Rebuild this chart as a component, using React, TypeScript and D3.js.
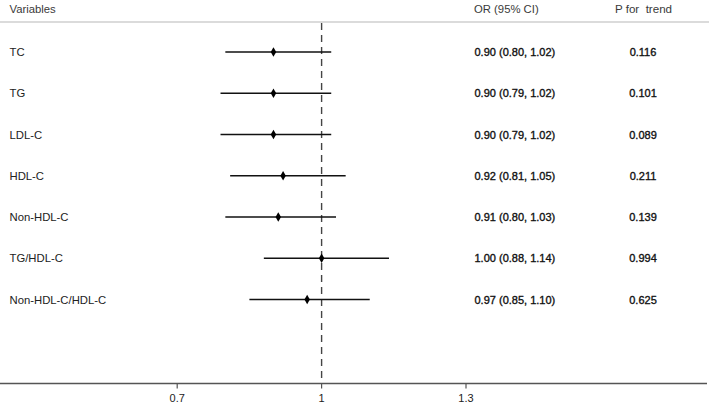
import React from "react";
import * as d3 from "d3";

const variables = ["TC", "TG", "LDL-C", "HDL-C", "Non-HDL-C", "TG/HDL-C", "Non-HDL-C/HDL-C"];
const orValues = [0.90, 0.90, 0.90, 0.92, 0.91, 1.00, 0.97];
const lowerCI = [0.80, 0.79, 0.79, 0.81, 0.80, 0.88, 0.85];
const upperCI = [1.02, 1.02, 1.02, 1.05, 1.03, 1.14, 1.10];
const orLabels = [
  "0.90 (0.80, 1.02)",
  "0.90 (0.79, 1.02)",
  "0.90 (0.79, 1.02)",
  "0.92 (0.81, 1.05)",
  "0.91 (0.80, 1.03)",
  "1.00 (0.88, 1.14)",
  "0.97 (0.85, 1.10)",
];
const pTrend = ["0.116", "0.101", "0.089", "0.211", "0.139", "0.994", "0.625"];
const xTicks = [0.7, 1, 1.3];

const W = 709;
const H = 404;
const FONT = "Liberation Sans, Arial, sans-serif";

export default function App() {
  const x = d3.scaleLinear().domain([0.7, 1.3]).range([177.2, 466]);
  const y = d3
    .scalePoint<string>()
    .domain([...variables, "", " "])
    .range([52, 382]);
  const headerY = 22;
  const axisY = 383.5;
  const diamond = d3.symbol().type(d3.symbolDiamond).size(26)();

  return (
    <svg
      width={W}
      height={H}
      style={{ position: "absolute", left: 0, top: 0, background: "#fff" }}
      fontFamily={FONT}
    >
      {/* headers */}
      <text x={9.5} y={12.5} fontSize={11.3} fill="#3a3a3a">Variables</text>
      <text x={474} y={12.5} fontSize={11.3} fill="#3a3a3a">OR (95% CI)</text>
      <text x={643.5} y={12.5} fontSize={11.6} fill="#3a3a3a" textAnchor="middle" xmlSpace="preserve">P for  trend</text>
      <line x1={0} x2={W} y1={headerY} y2={headerY} stroke="#cfcfcf" strokeWidth={1.6} />

      {/* reference line */}
      <line
        x1={x(1)}
        x2={x(1)}
        y1={headerY + 1}
        y2={axisY}
        stroke="#444"
        strokeWidth={1.4}
        strokeDasharray="7,5"
      />

      {variables.map((v, i) => {
        const yy = y(v) as number;
        return (
          <g key={v}>
            <text x={9.5} y={yy + 4} fontSize={11.3} fill="#222">{v}</text>
            <line x1={x(lowerCI[i])} x2={x(upperCI[i])} y1={yy} y2={yy} stroke="#111" strokeWidth={1.7} />
            <path d={diamond as string} transform={`translate(${x(orValues[i])},${yy})`} fill="#000" />
            <text x={474.5} y={yy + 4} fontSize={11} fill="#111" stroke="#111" strokeWidth={0.35}>{orLabels[i]}</text>
            <text x={643} y={yy + 4} fontSize={11} fill="#111" stroke="#111" strokeWidth={0.35} textAnchor="middle">{pTrend[i]}</text>
          </g>
        );
      })}

      {/* axis */}
      <line x1={0} x2={707} y1={axisY} y2={axisY} stroke="#555" strokeWidth={1.5} />
      {xTicks.map((t) => (
        <g key={t} transform={`translate(${x(t)},${axisY})`}>
          <line y1={0} y2={5} stroke="#555" strokeWidth={1.2} />
          <text y={18} fontSize={11} fill="#222" textAnchor="middle">{String(t)}</text>
        </g>
      ))}
    </svg>
  );
}
